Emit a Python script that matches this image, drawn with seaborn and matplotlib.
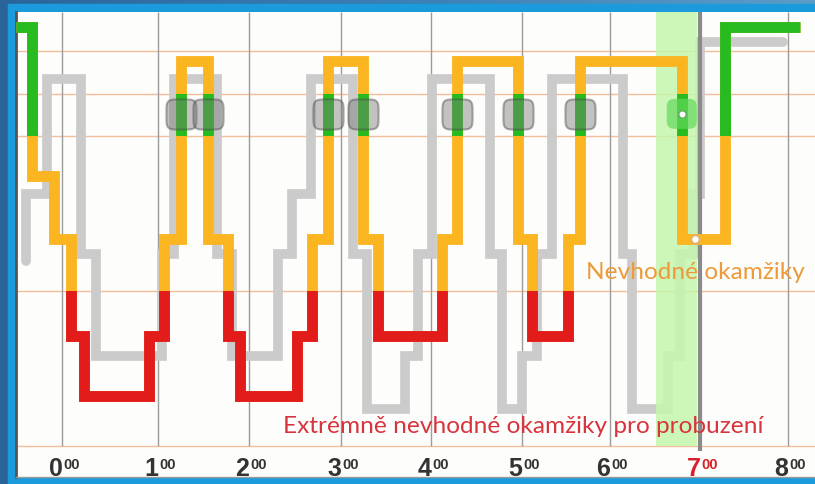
import numpy as np
import matplotlib
matplotlib.use("Agg")
import matplotlib.pyplot as plt
from matplotlib.patches import Rectangle
from matplotlib.path import Path
import seaborn as sns

# barevny hypnogram: casy zmen (hodiny) a hloubka (0 = bdeni nahore, 100 = dole)
color_times = [-0.51, -0.33, -0.09, 0.10, 0.24, 0.96, 1.12, 1.31, 1.61, 1.83, 1.96,
               2.59, 2.75, 2.93, 3.32, 3.48, 4.19, 4.35, 5.03, 5.18, 5.58, 5.71,
               6.83, 7.31, 8.13]
color_depth = [3.2, 35.3, 48.8, 69.7, 82.6, 69.7, 48.8, 10.5, 48.8, 69.7, 82.6,
               69.7, 48.8, 10.5, 48.8, 69.7, 48.8, 10.5, 48.8, 69.7, 48.8, 10.5,
               48.8, 3.2, 3.2]

# sedy (posunuty) hypnogram v pozadi
gray_times = [-0.40, -0.40, -0.17, 0.21, 0.38, 1.10, 1.23, 1.71, 1.87, 2.38, 2.53,
              2.74, 3.21, 3.36, 3.78, 3.92, 4.08, 4.72, 4.85, 5.07, 5.23, 5.40,
              6.18, 6.28, 6.68, 6.81, 6.95, 7.03, 7.95]
gray_depth = [53.5, 39.1, 14.4, 52.0, 74.0, 52.0, 14.4, 52.0, 74.0, 52.0, 39.1,
              14.4, 52.0, 85.4, 74.0, 52.0, 14.4, 52.0, 85.4, 74.0, 52.0, 14.4,
              52.0, 85.4, 74.0, 52.0, 39.1, 6.5, 6.5]

# mista vhodna k probuzeni (prechody pres zelene pasmo)
wake_times = [1.31, 1.61, 2.93, 3.32, 4.35, 5.03, 5.71]
alarm_time = 6.83
marker_depth = 21.9

# hodinove znacky (v obrazku nejsou uplne pravidelne)
hour_pos = [0.0, 1.058, 2.061, 3.074, 4.066, 5.069, 6.039, 7.030, 8.0]
hour_labels = ["0", "1", "2", "3", "4", "5", "6", "7", "8"]
hour_colors = ["#333333"] * 7 + ["#d8202a", "#333333"]

level_lines = [8.4, 17.6, 26.7, 60.0, 93.3]
green_zone = (17.6, 26.7)
red_zone = 60.0
window = (6.55, 7.0)
alarm_line = 7.03

ORANGE = "#fbb520"
GREEN = "#27bb1f"
RED = "#e21b1b"
GRAY = "#cbcbcb"

sns.set_theme(style="white")
plt.rcParams["font.family"] = ["Lato", "DejaVu Sans"]

fig = plt.figure(figsize=(8.15, 4.85), dpi=100)

# modry ramecek
bg = fig.add_axes([0, 0, 1, 1])
grad = np.linspace(0, 1, 256).reshape(1, -1)
bg.imshow(grad, aspect="auto", cmap=matplotlib.colors.LinearSegmentedColormap.from_list(
    "frame", ["#2a659a", "#3b80b6", "#5b9cc8"]), extent=[0, 1, 0, 1])
bg.add_patch(Rectangle((8 / 815, 0), 1, 480 / 485, color="#1c9bdc"))
bg.set_xlim(0, 1)
bg.set_ylim(0, 1)
bg.axis("off")

ax = fig.add_axes([16 / 815, 7 / 485, 799 / 815, 465 / 485])
ax.set_facecolor("#fdfdfb")
xmin, xmax = -0.507, 8.298
ax.set_xlim(xmin, xmax)
ax.set_ylim(100, 0)

# mrizka
for d in level_lines:
    ax.axhline(d, color="#f2bf9a", lw=1, zorder=1)
ax.vlines(hour_pos, 0, 93.3, color="#9c9c9c", lw=1, zorder=1)

# sedy prubeh
sns.lineplot(x=gray_times, y=gray_depth, ax=ax, sort=False, estimator=None,
             drawstyle="steps-post", color=GRAY, lw=7, zorder=2)
ax.lines[-1].set_solid_joinstyle("miter")

# okno budiku
ax.axvspan(window[0], window[1], ymin=1 - 93.3 / 100, ymax=1, color="#c4f7ae",
           alpha=0.85, lw=0, zorder=3)
ax.vlines(alarm_line, 0, 94.4, color="#8a8a8a", lw=3, zorder=3.5)


def step_line(times, depth, color, clip=None):
    sns.lineplot(x=times, y=depth, ax=ax, sort=False, estimator=None,
                 drawstyle="steps-post", color=color, lw=7.8, zorder=4)
    ln = ax.lines[-1]
    ln.set_solid_joinstyle("miter")
    ln.set_solid_capstyle("butt")
    if clip is not None:
        ln.set_clip_path(Rectangle((xmin, clip[0]), xmax - xmin, clip[1] - clip[0],
                                   transform=ax.transData))


step_line(color_times, color_depth, ORANGE)
step_line(color_times, color_depth, RED, (red_zone, 100))
step_line(color_times, color_depth, GREEN, green_zone)
step_line(color_times[:3], color_depth[:3], GREEN, (0, green_zone[1]))
step_line(color_times[-3:], color_depth[-3:], GREEN, (0, green_zone[1]))

# zaoblene ctverecky
t = np.linspace(0, 2 * np.pi, 80)
n = 5
sq = np.column_stack([np.sign(np.cos(t)) * np.abs(np.cos(t)) ** (2 / n),
                      np.sign(np.sin(t)) * np.abs(np.sin(t)) ** (2 / n)])
rsq = Path(sq, closed=True)

sns.scatterplot(x=wake_times, y=[marker_depth] * len(wake_times), ax=ax,
                marker=rsq, s=470, color="#7a7a7a", alpha=0.45,
                edgecolor="#4a4a4a", linewidth=1.5, zorder=5)
sns.scatterplot(x=[alarm_time], y=[marker_depth], ax=ax, marker=rsq, s=470,
                color="#62d85c", alpha=0.7, edgecolor="none", zorder=5)
sns.scatterplot(x=[alarm_time], y=[marker_depth], ax=ax, marker="o", s=28,
                color="white", edgecolor="#6aa866", linewidth=1, zorder=6)
sns.scatterplot(x=[6.975], y=[48.8], ax=ax, marker="o", s=34,
                color="white", edgecolor="#d9b27a", linewidth=1.2, zorder=6)

# popisky
ax.text(6.975, 55.7, "Nevhodné okamžiky", color="#ec9a3a", fontsize=17.6,
        ha="center", va="center", zorder=7)
ax.text(5.085, 89.0, "Extrémně nevhodné okamžiky pro probuzení", color="#d8343f",
        fontsize=17.6, ha="center", va="center", zorder=7)

for h, lab, col in zip(hour_pos, hour_labels, hour_colors):
    ax.text(h + 0.005, 99.6, lab, ha="right", va="baseline", fontsize=18,
            fontweight="bold", color=col, family="Liberation Sans", zorder=7)
    ax.text(h + 0.015, 95.6, "00", ha="left", va="top", fontsize=10.5,
            fontweight="bold", color=col, family="Liberation Sans", zorder=7)

ax.set_xticks([])
ax.set_yticks([])
ax.set_xlabel("")
ax.set_ylabel("")
for side in ["top", "right"]:
    ax.spines[side].set_visible(False)
ax.spines["left"].set_color("#555555")
ax.spines["left"].set_linewidth(2)
ax.spines["bottom"].set_color("#9a9a9a")
ax.spines["bottom"].set_linewidth(1)

fig.savefig("out.png", dpi=100)
